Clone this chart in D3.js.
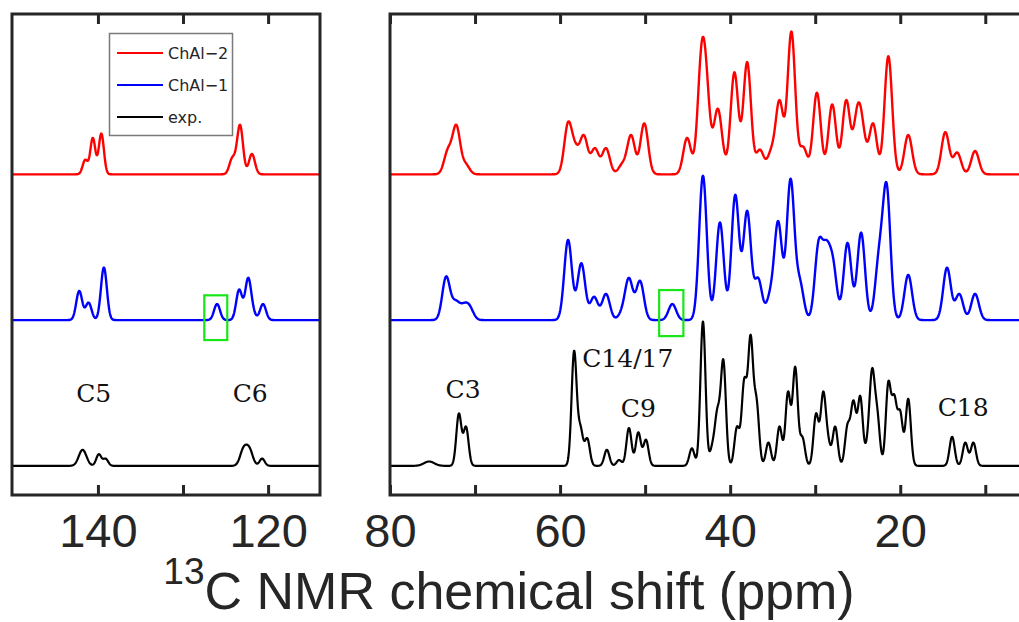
<!DOCTYPE html>
<html>
<head>
<meta charset="utf-8">
<script src="https://cdn.jsdelivr.net/npm/d3@7"></script>
<style>
  body { margin: 0; background: #fff; }
  #chart { width: 1019px; height: 622px; }
</style>
</head>
<body>
<div id="chart"></div>
<script>
// Peak lists: [shift (ppm), height as read (1 = trace spacing), optional line width (ppm)]
const chal2Peaks = [
    [141.5, 0.10, 0.3], [140.6, 0.25, 0.3], [139.6, 0.28, 0.3], [124.2, 0.12, 0.35], [123.3, 0.34, 0.35], [121.9, 0.14, 0.35],
    [73.2, 0.18], [72.2, 0.34], [71.1, 0.08],
    [59.06, 0.36], [58.2, 0.22], [57.2, 0.27], [55.9, 0.18], [54.6, 0.18], [52.7, 0.08], [51.65, 0.27], [50.1, 0.35],
    [45.06, 0.25], [43.4, 0.88], [42.8, 0.77], [41.5, 0.45], [41.0, 0.30], [39.5, 0.70], [38.0, 0.77],
    [36.5, 0.17], [35.2, 0.18], [34.2, 0.51], [32.8, 0.98], [31.4, 0.19], [29.8, 0.56], [28.0, 0.48],
    [26.35, 0.51], [25.06, 0.47], [24.47, 0.40], [23.2, 0.35], [21.4, 0.81], [19.06, 0.27],
    [14.7, 0.29], [13.3, 0.15], [11.2, 0.16]
];
const chal1Peaks = [
    [142.2, 0.20, 0.35], [141.1, 0.12, 0.35], [139.3, 0.36, 0.35], [126.0, 0.11, 0.35], [123.4, 0.21, 0.35],
    [122.35, 0.29, 0.35], [121.8, 0.12, 0.35], [120.6, 0.11, 0.35],
    [73.4, 0.30], [72.35, 0.14], [71.8, 0.12], [71.2, 0.12], [70.6, 0.10],
    [59.06, 0.55], [57.5, 0.39], [56.0, 0.16], [54.6, 0.18], [52.7, 0.10], [51.9, 0.29], [50.6, 0.27],
    [46.8, 0.11], [43.2, 0.99], [41.2, 0.67], [39.4, 0.86], [38.0, 0.75], [36.7, 0.29], [35.3, 0.22],
    [34.35, 0.68], [32.9, 0.97], [31.8, 0.29], [29.6, 0.55], [28.7, 0.55], [27.9, 0.43], [26.2, 0.53],
    [24.6, 0.60], [22.5, 0.51], [21.6, 0.94], [19.06, 0.31],
    [14.5, 0.36], [13.06, 0.18], [11.2, 0.18]
];
const expPeaks = [
    [141.8, 0.11, 0.45], [139.9, 0.08], [139.1, 0.05], [122.9, 0.13, 0.4], [122.2, 0.13, 0.4], [120.7, 0.05],
    [75.4, 0.03, 0.6], [71.9, 0.36], [71.06, 0.27],
    [58.8, 0.23], [58.35, 0.79], [57.6, 0.28], [56.8, 0.19], [54.5, 0.11], [53.06, 0.04], [51.9, 0.26], [50.8, 0.23], [49.9, 0.18],
    [44.5, 0.12], [43.2, 0.99], [42.1, 0.16], [41.5, 0.40], [40.8, 0.73], [39.2, 0.27], [38.35, 0.60], [37.6, 0.90], [36.9, 0.47],
    [35.5, 0.16], [34.2, 0.27], [33.2, 0.51], [32.35, 0.68], [31.5, 0.20], [29.9, 0.36], [29.06, 0.51], [28.5, 0.23], [27.65, 0.27],
    [26.2, 0.29], [25.5, 0.45], [24.7, 0.48], [23.8, 0.28], [23.3, 0.67], [22.7, 0.40], [21.4, 0.58], [21.05, 0.33],
    [20.7, 0.49], [20.0, 0.38], [19.06, 0.46],
    [13.9, 0.20], [12.35, 0.16], [11.4, 0.16]
];

const seriesNames = ["ChAl-2", "ChAl-1", "exp."];
const seriesOffsets = [2, 1, 0];
const seriesWidths = [0.45, 0.45, 0.3];   // default gaussian sigma, ppm

const leftTicks = [140, 130, 120];
const leftLabels = [140, 120];
const rightTicks = [80, 70, 60, 50, 40, 30, 20, 10];
const rightLabels = [80, 60, 40, 20];

const carbonLabels = [
    { text: "C5", panel: 0, ppm: 140.5, level: 0.44, anchor: "middle" },
    { text: "C6", panel: 0, ppm: 122.1, level: 0.44, anchor: "middle" },
    { text: "C3", panel: 1, ppm: 71.4, level: 0.465, anchor: "middle" },
    { text: "C14/17", panel: 1, ppm: 57.4, level: 0.68, anchor: "start" },
    { text: "C9", panel: 1, ppm: 50.8, level: 0.335, anchor: "middle" },
    { text: "C18", panel: 1, ppm: 12.6, level: 0.34, anchor: "middle" }
];
const highlightBoxes = [
    { panel: 0, ppm: [127.5, 124.8], level: [0.863, 1.17] },
    { panel: 1, ppm: [48.35, 45.5], level: [0.89, 1.206] }
];

const colors = { "ChAl-2": "#ff0000", "ChAl-1": "#0000ff", "exp.": "#000000" };
const axisColor = "#262626";

// Panel geometry
const plotTop = 14, plotBottom = 495;
const panels = [
    { domain: [150.1, 113.9], range: [12, 320], ticks: leftTicks, labels: leftLabels },
    { domain: [80, 5.8], range: [390, 1021], ticks: rightTicks, labels: rightLabels }
];

const svg = d3.select("#chart")
    .append("svg")
    .attr("width", 1019)
    .attr("height", 622);

const y = d3.scaleLinear()
    .domain([-0.2, 3.1])
    .range([plotBottom, plotTop]);

const gauss = (d, s) => Math.exp(-d * d / (2 * s * s));

// Turn the read peak tops into gaussian amplitudes so the summed curve
// passes through them (non-negative Gauss-Seidel sweeps)
function amplitudes(peaks, sigma) {
    const amp = peaks.map(p => p[1]);
    for (let it = 0; it < 500; it++) {
        peaks.forEach((p, i) => {
            let s = 0;
            peaks.forEach((q, j) => {
                if (j !== i) s += amp[j] * gauss(p[0] - q[0], q[2] || sigma);
            });
            amp[i] = Math.max(0, 0.5 * amp[i] + 0.5 * (p[1] - s));
        });
    }
    return amp;
}

const spectra = [chal2Peaks, chal1Peaks, expPeaks].map((peaks, k) => {
    const sigma = seriesWidths[k];
    const amp = amplitudes(peaks, sigma);
    return {
        name: seriesNames[k],
        offset: seriesOffsets[k],
        value: ppm => d3.sum(peaks, (p, i) => amp[i] * gauss(ppm - p[0], p[2] || sigma))
    };
});

panels.forEach((panel, pi) => {
    const x = d3.scaleLinear().domain(panel.domain).range(panel.range);
    const g = svg.append("g");

    g.append("clipPath")
        .attr("id", `clip-${pi}`)
        .append("rect")
        .attr("x", panel.range[0])
        .attr("y", plotTop)
        .attr("width", panel.range[1] - panel.range[0])
        .attr("height", plotBottom - plotTop);

    // Spectra
    const step = 0.04;
    const grid = d3.range(panel.domain[1], panel.domain[0] + step, step);
    const line = d3.line()
        .x(d => x(d[0]))
        .y(d => y(d[1]));

    spectra.forEach(s => {
        g.append("path")
            .datum(grid.map(ppm => [ppm, s.offset + s.value(ppm)]))
            .attr("clip-path", `url(#clip-${pi})`)
            .attr("fill", "none")
            .attr("stroke", colors[s.name])
            .attr("stroke-width", s.name === "exp." ? 2.2 : 2.4)
            .attr("stroke-linejoin", "round")
            .attr("d", line);
    });

    // Highlight boxes
    highlightBoxes.filter(b => b.panel === pi).forEach(b => {
        g.append("rect")
            .attr("x", x(b.ppm[0]))
            .attr("y", y(b.level[1]))
            .attr("width", x(b.ppm[1]) - x(b.ppm[0]))
            .attr("height", y(b.level[0]) - y(b.level[1]))
            .attr("fill", "none")
            .attr("stroke", "#19e619")
            .attr("stroke-width", 2.2);
    });

    // Carbon labels
    carbonLabels.filter(c => c.panel === pi).forEach(c => {
        g.append("text")
            .attr("x", x(c.ppm))
            .attr("y", y(c.level))
            .attr("text-anchor", c.anchor)
            .style("font-family", "'DejaVu Serif', serif")
            .style("font-size", "25px")
            .style("fill", "#111")
            .text(c.text);
    });

    // X axis (bottom with labels, top ticks only)
    const bottomAxis = g.append("g")
        .attr("transform", `translate(0,${plotBottom})`)
        .call(d3.axisBottom(x)
            .tickValues(panel.ticks)
            .tickSizeInner(-10)
            .tickSizeOuter(0)
            .tickPadding(19)
            .tickFormat(d => panel.labels.includes(d) ? d : ""));
    bottomAxis.select(".domain").remove();
    bottomAxis.selectAll("line").attr("stroke", axisColor).attr("stroke-width", 3);
    bottomAxis.selectAll("text")
        .style("font-family", "'Liberation Sans', Arial, sans-serif")
        .style("font-size", "47px")
        .style("fill", axisColor);

    const topAxis = g.append("g")
        .attr("transform", `translate(0,${plotTop})`)
        .call(d3.axisTop(x)
            .tickValues(panel.ticks)
            .tickSizeInner(-10)
            .tickSizeOuter(0)
            .tickFormat(""));
    topAxis.select(".domain").remove();
    topAxis.selectAll("line").attr("stroke", axisColor).attr("stroke-width", 3);

    // Frame
    g.append("rect")
        .attr("x", panel.range[0])
        .attr("y", plotTop)
        .attr("width", panel.range[1] - panel.range[0])
        .attr("height", plotBottom - plotTop)
        .attr("fill", "none")
        .attr("stroke", axisColor)
        .attr("stroke-width", 3);
});

// Legend
const legend = svg.append("g");
legend.append("rect")
    .attr("x", 109.5)
    .attr("y", 33.5)
    .attr("width", 123)
    .attr("height", 102)
    .attr("fill", "#fff")
    .attr("stroke", "#7a7a7a")
    .attr("stroke-width", 1.5);

seriesNames.forEach((name, i) => {
    const ly = 53 + i * 32;
    legend.append("line")
        .attr("x1", 117)
        .attr("x2", 163)
        .attr("y1", ly)
        .attr("y2", ly)
        .attr("stroke", colors[name])
        .attr("stroke-width", 2);
    legend.append("text")
        .attr("x", 168)
        .attr("y", ly + 6)
        .style("font-family", "'DejaVu Sans', sans-serif")
        .style("font-size", "16px")
        .style("fill", axisColor)
        .text(name.replace("-", "\u2212"));
});

// Axis title
const title = svg.append("text")
    .attr("x", 509)
    .attr("y", 609)
    .attr("text-anchor", "middle")
    .style("font-family", "'Liberation Sans', Arial, sans-serif")
    .style("font-size", "52px")
    .style("fill", axisColor);
title.append("tspan")
    .style("font-size", "37px")
    .attr("dy", -25)
    .text("13");
title.append("tspan")
    .attr("dy", 25)
    .text("C NMR chemical shift (ppm)");
</script>
</body>
</html>
